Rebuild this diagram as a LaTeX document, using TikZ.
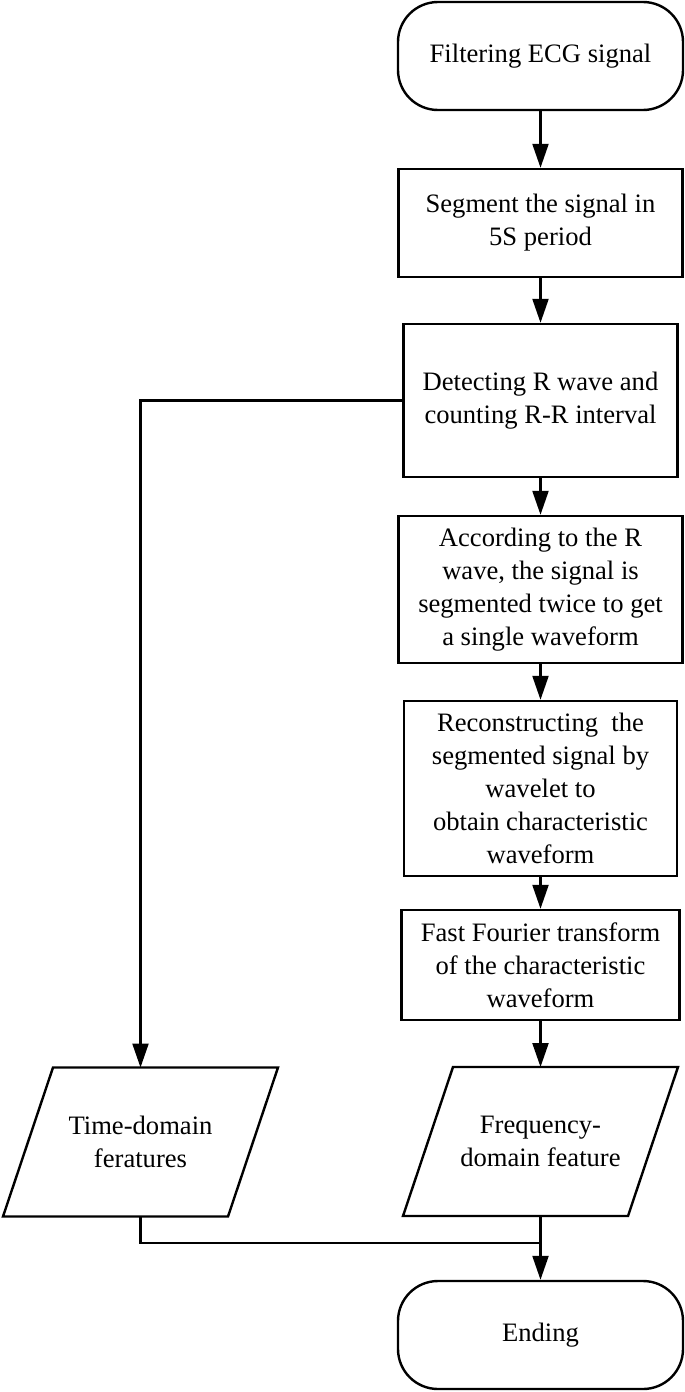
\documentclass[tikz,border=0pt]{standalone}
\usepackage{fontspec}
\setmainfont{Liberation Serif}
\usetikzlibrary{arrows.meta}

\tikzset{
  procbox/.style={draw, line width=1.2pt, align=center, inner sep=2pt,
    font=\fontsize{13.3}{16.5}\selectfont},
  termbox/.style={procbox, rounded corners=20pt, minimum width=142.5pt, minimum height=54pt},
  iotext/.style={align=center, inner sep=0pt, outer sep=0pt, font=\fontsize{13.3}{16.5}\selectfont,
    minimum width=112.5pt, minimum height=74.5pt},
  outline/.style={line width=1.2pt, line join=miter},
  flow/.style={line width=1.1pt, -{Triangle[length=12pt,width=8pt]}},
  joinline/.style={line width=1.1pt}
}

\begin{document}
\begin{tikzpicture}[x=0.5pt,y=-0.5pt]
    \useasboundingbox (0,0) rectangle (685,1392);

    % right column
    \node[termbox] (start) at (540.5,56) {Filtering ECG signal};
    \node[procbox, minimum width=142pt, minimum height=54pt] (seg) at (540.5,223)
        {Segment the signal in\\5S period};
    \node[procbox, minimum width=137pt, minimum height=76.5pt] (detect) at (540.5,400.5)
        {Detecting R wave and\\counting R-R interval};
    \node[procbox, minimum width=142pt, minimum height=73.5pt] (twice) at (540.5,589.5)
        {According to the R\\wave, the signal is\\segmented twice to get\\a single waveform};
    \node[procbox, minimum width=136.5pt, minimum height=87.5pt] (recon) at (540.5,788.5)
        {Reconstructing~ the\\segmented signal by\\wavelet to\\obtain characteristic\\waveform};
    \node[procbox, minimum width=139pt, minimum height=55pt] (fft) at (540.5,965)
        {Fast Fourier transform\\of the characteristic\\waveform};
    \node[iotext] (freq) at (540.5,1141.5) {Frequency-\\domain feature};
    \node[termbox] (ending) at (540.5,1335) {Ending};

    % left column
    \node[iotext] (time) at (140.5,1142) {Time-domain\\feratures};
    \coordinate (merge) at (540.5,1243);

    % parallelograms
    \foreach \n in {time,freq}
        \draw[outline] ([xshift=12.5pt]\n.north west) -- ([xshift=12.5pt]\n.north east)
            -- ([xshift=-12.5pt]\n.south east) -- ([xshift=-12.5pt]\n.south west) -- cycle;

    % connectors
    \draw[flow] (start) -- (seg);
    \draw[flow] (seg) -- (detect);
    \draw[flow] (detect) -- (twice);
    \draw[flow] (twice) -- (recon);
    \draw[flow] (recon) -- (fft);
    \draw[flow] (fft) -- (freq);
    \draw[flow] (detect.west) -| (time.north);
    \draw[joinline] (time.south) |- (merge);
    \draw[flow] (freq.south) -- (ending.north);
\end{tikzpicture}
\end{document}
